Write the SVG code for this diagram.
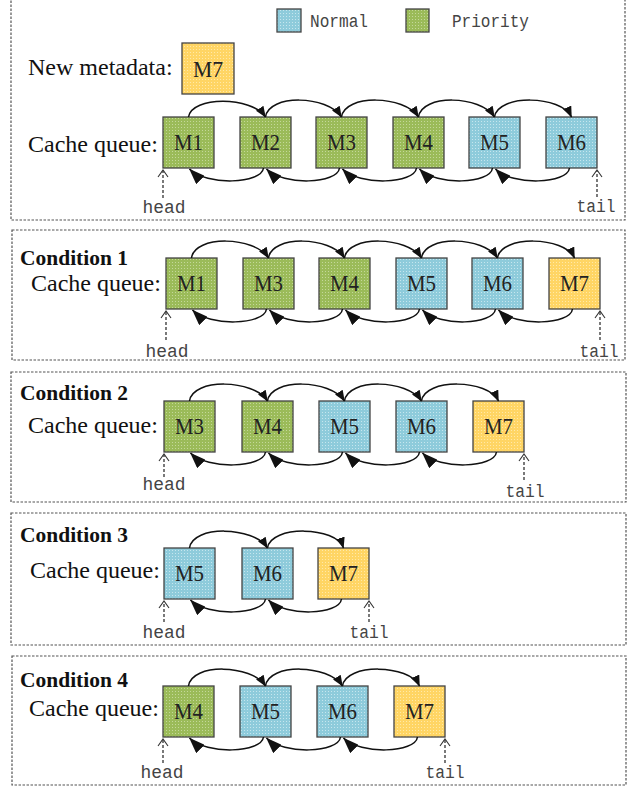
<svg xmlns="http://www.w3.org/2000/svg" width="634" height="788" viewBox="0 0 634 788">
<defs>
<pattern id="pg" width="3" height="3" patternUnits="userSpaceOnUse"><rect width="3" height="3" fill="#9bbb59"/><rect x="1" y="1" width="1" height="1" fill="#c4d89a"/></pattern>
<pattern id="pb" width="3" height="3" patternUnits="userSpaceOnUse"><rect width="3" height="3" fill="#8ecbdb"/><rect x="1" y="1" width="1" height="1" fill="#c6e6ee"/></pattern>
<pattern id="py" width="3" height="3" patternUnits="userSpaceOnUse"><rect width="3" height="3" fill="#ffd564"/><rect x="1" y="1" width="1" height="1" fill="#ffe9a8"/></pattern>
<marker id="at" viewBox="0 0 11 9" refX="10.5" refY="4.5" markerWidth="11" markerHeight="9" orient="auto" markerUnits="userSpaceOnUse"><path d="M0,0 L11,4.5 L0,9 z" fill="#111"/></marker>
<marker id="ab" viewBox="0 0 16 12" refX="15.5" refY="6" markerWidth="16" markerHeight="12" orient="auto" markerUnits="userSpaceOnUse"><path d="M0,0 L16,6 L0,12 z" fill="#111"/></marker>
<style>
.panel{fill:none;stroke:#555;stroke-width:1.2;stroke-dasharray:2.5 1.5}
.g{fill:url(#pg);stroke:#444;stroke-width:1.3}
.b{fill:url(#pb);stroke:#444;stroke-width:1.3}
.y{fill:url(#py);stroke:#444;stroke-width:1.3}
.ml{font-family:"Liberation Serif",serif;font-size:23px;fill:#222;text-anchor:middle}
.lbl{font-family:"Liberation Serif",serif;font-size:24px;fill:#111}
.cond{font-family:"Liberation Serif",serif;font-size:22px;font-weight:bold;fill:#111}
.mono{font-family:"Liberation Mono",monospace;font-size:19px;fill:#444}
.leg{font-family:"Liberation Mono",monospace;font-size:19px;fill:#444}
.top{fill:none;stroke:#111;stroke-width:1.5;marker-end:url(#at)}
.bot{fill:none;stroke:#111;stroke-width:1.5;marker-end:url(#ab)}
.dash{fill:none;stroke:#333;stroke-width:1.3;stroke-dasharray:3 2}
.chev{fill:none;stroke:#333;stroke-width:1.1}
</style>
</defs>
<rect width="634" height="788" fill="#fff"/>

<g id="panels">
<rect class="panel" x="11" y="-3" width="614" height="223"/>
<rect class="panel" x="12" y="230" width="613" height="130"/>
<rect class="panel" x="11" y="372" width="615" height="130"/>
<rect class="panel" x="11" y="513" width="615" height="132"/>
<rect class="panel" x="12" y="656" width="614" height="129"/>
</g>

<g id="legend">
<rect class="b" x="277" y="9" width="24" height="23"/>
<text class="leg" x="310" y="27" textLength="58" lengthAdjust="spacingAndGlyphs">Normal</text>
<rect class="g" x="406" y="9" width="23" height="23"/>
<text class="leg" x="452" y="27" textLength="77" lengthAdjust="spacingAndGlyphs">Priority</text>
</g>

<g id="labels">
<text class="lbl" x="28" y="75">New metadata:</text>
<text class="lbl" x="28" y="152">Cache queue:</text>
<text class="cond" x="20" y="265" textLength="108" lengthAdjust="spacingAndGlyphs">Condition 1</text>
<text class="lbl" x="31" y="291">Cache queue:</text>
<text class="cond" x="20" y="400" textLength="108" lengthAdjust="spacingAndGlyphs">Condition 2</text>
<text class="lbl" x="28" y="433">Cache queue:</text>
<text class="cond" x="20" y="542" textLength="108" lengthAdjust="spacingAndGlyphs">Condition 3</text>
<text class="lbl" x="30" y="578">Cache queue:</text>
<text class="cond" x="20" y="687" textLength="108" lengthAdjust="spacingAndGlyphs">Condition 4</text>
<text class="lbl" x="29" y="716">Cache queue:</text>
</g>

<g id="new-m7"><rect class="y" x="182" y="43" width="52" height="51"/><text class="ml" x="208" y="76.5" textLength="30" lengthAdjust="spacingAndGlyphs">M7</text></g>

<g id="p0-m1"><rect class="g" x="163" y="117" width="51" height="51"/><text class="ml" x="188.5" y="150" textLength="29" lengthAdjust="spacingAndGlyphs">M1</text></g>
<g id="p0-m2"><rect class="g" x="240" y="117" width="51" height="51"/><text class="ml" x="265.5" y="150" textLength="29" lengthAdjust="spacingAndGlyphs">M2</text></g>
<g id="p0-m3"><rect class="g" x="316" y="117" width="51" height="51"/><text class="ml" x="341.5" y="150" textLength="29" lengthAdjust="spacingAndGlyphs">M3</text></g>
<g id="p0-m4"><rect class="g" x="393" y="117" width="51" height="51"/><text class="ml" x="418.5" y="150" textLength="29" lengthAdjust="spacingAndGlyphs">M4</text></g>
<g id="p0-m5"><rect class="b" x="469" y="117" width="51" height="51"/><text class="ml" x="494.5" y="150" textLength="29" lengthAdjust="spacingAndGlyphs">M5</text></g>
<g id="p0-m6"><rect class="b" x="546" y="117" width="51" height="51"/><text class="ml" x="571.5" y="150" textLength="29" lengthAdjust="spacingAndGlyphs">M6</text></g>

<g id="p1-m1"><rect class="g" x="166" y="258" width="51" height="51"/><text class="ml" x="191.5" y="291" textLength="29" lengthAdjust="spacingAndGlyphs">M1</text></g>
<g id="p1-m3"><rect class="g" x="243" y="258" width="51" height="51"/><text class="ml" x="268.5" y="291" textLength="29" lengthAdjust="spacingAndGlyphs">M3</text></g>
<g id="p1-m4"><rect class="g" x="319" y="258" width="51" height="51"/><text class="ml" x="344.5" y="291" textLength="29" lengthAdjust="spacingAndGlyphs">M4</text></g>
<g id="p1-m5"><rect class="b" x="396" y="258" width="51" height="51"/><text class="ml" x="421.5" y="291" textLength="29" lengthAdjust="spacingAndGlyphs">M5</text></g>
<g id="p1-m6"><rect class="b" x="472" y="258" width="51" height="51"/><text class="ml" x="497.5" y="291" textLength="29" lengthAdjust="spacingAndGlyphs">M6</text></g>
<g id="p1-m7"><rect class="y" x="549" y="258" width="51" height="51"/><text class="ml" x="574.5" y="291" textLength="29" lengthAdjust="spacingAndGlyphs">M7</text></g>

<g id="p2-m3"><rect class="g" x="164" y="401" width="51" height="51"/><text class="ml" x="189.5" y="434" textLength="29" lengthAdjust="spacingAndGlyphs">M3</text></g>
<g id="p2-m4"><rect class="g" x="242" y="401" width="51" height="51"/><text class="ml" x="267.5" y="434" textLength="29" lengthAdjust="spacingAndGlyphs">M4</text></g>
<g id="p2-m5"><rect class="b" x="319" y="401" width="51" height="51"/><text class="ml" x="344.5" y="434" textLength="29" lengthAdjust="spacingAndGlyphs">M5</text></g>
<g id="p2-m6"><rect class="b" x="396" y="401" width="51" height="51"/><text class="ml" x="421.5" y="434" textLength="29" lengthAdjust="spacingAndGlyphs">M6</text></g>
<g id="p2-m7"><rect class="y" x="473" y="401" width="51" height="51"/><text class="ml" x="498.5" y="434" textLength="29" lengthAdjust="spacingAndGlyphs">M7</text></g>

<g id="p3-m5"><rect class="b" x="164" y="548" width="51" height="51"/><text class="ml" x="189.5" y="581" textLength="29" lengthAdjust="spacingAndGlyphs">M5</text></g>
<g id="p3-m6"><rect class="b" x="242" y="548" width="51" height="51"/><text class="ml" x="267.5" y="581" textLength="29" lengthAdjust="spacingAndGlyphs">M6</text></g>
<g id="p3-m7"><rect class="y" x="318" y="548" width="51" height="51"/><text class="ml" x="343.5" y="581" textLength="29" lengthAdjust="spacingAndGlyphs">M7</text></g>

<g id="p4-m4"><rect class="g" x="163" y="686" width="51" height="51"/><text class="ml" x="188.5" y="719" textLength="29" lengthAdjust="spacingAndGlyphs">M4</text></g>
<g id="p4-m5"><rect class="b" x="240" y="686" width="51" height="51"/><text class="ml" x="265.5" y="719" textLength="29" lengthAdjust="spacingAndGlyphs">M5</text></g>
<g id="p4-m6"><rect class="b" x="317" y="686" width="51" height="51"/><text class="ml" x="342.5" y="719" textLength="29" lengthAdjust="spacingAndGlyphs">M6</text></g>
<g id="p4-m7"><rect class="y" x="394" y="686" width="51" height="51"/><text class="ml" x="419.5" y="719" textLength="29" lengthAdjust="spacingAndGlyphs">M7</text></g>

<g id="connectors">
<path class="top" d="M188.5,117 C191.5,96 251.5,96 265.5,117"/>
<path class="top" d="M265.5,117 C268.5,94 327.5,95 341.5,117"/>
<path class="top" d="M341.5,117 C344.5,94 404.5,95 418.5,117"/>
<path class="top" d="M418.5,117 C421.5,94 480.5,95 494.5,117"/>
<path class="top" d="M494.5,117 C497.5,94 561.5,95 571.5,117"/>
<path class="bot" d="M263.5,168 C261.5,184 206.5,186 189.5,169"/>
<path class="bot" d="M339.5,168 C337.5,184 283.5,186 266.5,169"/>
<path class="bot" d="M416.5,168 C414.5,184 359.5,186 342.5,169"/>
<path class="bot" d="M492.5,168 C490.5,184 436.5,186 419.5,169"/>
<path class="bot" d="M569.5,168 C567.5,184 512.5,186 495.5,169"/>

<path class="top" d="M191.5,258 C194.5,235 254.5,236 268.5,258"/>
<path class="top" d="M268.5,258 C271.5,235 330.5,236 344.5,258"/>
<path class="top" d="M344.5,258 C347.5,235 407.5,236 421.5,258"/>
<path class="top" d="M421.5,258 C424.5,235 483.5,236 497.5,258"/>
<path class="top" d="M497.5,258 C500.5,235 564.5,236 574.5,258"/>
<path class="bot" d="M266.5,309 C264.5,325 209.5,327 192.5,310"/>
<path class="bot" d="M342.5,309 C340.5,325 286.5,327 269.5,310"/>
<path class="bot" d="M419.5,309 C417.5,325 362.5,327 345.5,310"/>
<path class="bot" d="M495.5,309 C493.5,325 439.5,327 422.5,310"/>
<path class="bot" d="M572.5,309 C570.5,325 515.5,327 498.5,310"/>

<path class="top" d="M189.5,401 C192.5,378 253.5,379 267.5,401"/>
<path class="top" d="M267.5,401 C270.5,378 330.5,379 344.5,401"/>
<path class="top" d="M344.5,401 C347.5,378 407.5,379 421.5,401"/>
<path class="top" d="M421.5,401 C424.5,378 488.5,379 498.5,401"/>
<path class="bot" d="M265.5,452 C263.5,468 207.5,470 190.5,453"/>
<path class="bot" d="M342.5,452 C340.5,468 285.5,470 268.5,453"/>
<path class="bot" d="M419.5,452 C417.5,468 362.5,470 345.5,453"/>
<path class="bot" d="M496.5,452 C494.5,468 439.5,470 422.5,453"/>

<path class="top" d="M189.5,548 C192.5,525 253.5,526 267.5,548"/>
<path class="top" d="M267.5,548 C270.5,525 336.5,526 343.5,548"/>
<path class="bot" d="M265.5,599 C263.5,615 207.5,617 190.5,600"/>
<path class="bot" d="M341.5,599 C339.5,615 285.5,617 268.5,600"/>

<path class="top" d="M188.5,686 C191.5,663 251.5,664 265.5,686"/>
<path class="top" d="M265.5,686 C268.5,663 328.5,664 342.5,686"/>
<path class="top" d="M342.5,686 C345.5,663 409.5,664 419.5,686"/>
<path class="bot" d="M263.5,737 C261.5,753 206.5,755 189.5,738"/>
<path class="bot" d="M340.5,737 C338.5,753 283.5,755 266.5,738"/>
<path class="bot" d="M417.5,737 C415.5,753 360.5,755 343.5,738"/>
</g>

<g id="pointers">
<path class="dash" d="M163,198 V171"/><path class="chev" d="M158,177 L163,170 L168,177"/>
<text class="mono" x="164" y="213" text-anchor="middle" textLength="43" lengthAdjust="spacingAndGlyphs">head</text>
<path class="dash" d="M597,197 V171"/><path class="chev" d="M592,177 L597,170 L602,177"/>
<text class="mono" x="596" y="212" text-anchor="middle" textLength="39" lengthAdjust="spacingAndGlyphs">tail</text>

<path class="dash" d="M166,340 V312"/><path class="chev" d="M161,318 L166,311 L171,318"/>
<text class="mono" x="167" y="357" text-anchor="middle" textLength="43" lengthAdjust="spacingAndGlyphs">head</text>
<path class="dash" d="M600,340 V312"/><path class="chev" d="M595,318 L600,311 L605,318"/>
<text class="mono" x="599" y="357" text-anchor="middle" textLength="39" lengthAdjust="spacingAndGlyphs">tail</text>

<path class="dash" d="M164,477 V455"/><path class="chev" d="M159,461 L164,454 L169,461"/>
<text class="mono" x="164" y="490" text-anchor="middle" textLength="43" lengthAdjust="spacingAndGlyphs">head</text>
<path class="dash" d="M524,480 V455"/><path class="chev" d="M519,461 L524,454 L529,461"/>
<text class="mono" x="525" y="497" text-anchor="middle" textLength="39" lengthAdjust="spacingAndGlyphs">tail</text>

<path class="dash" d="M164,622 V602"/><path class="chev" d="M159,608 L164,601 L169,608"/>
<text class="mono" x="164" y="638" text-anchor="middle" textLength="43" lengthAdjust="spacingAndGlyphs">head</text>
<path class="dash" d="M369,622 V602"/><path class="chev" d="M364,608 L369,601 L374,608"/>
<text class="mono" x="369" y="638" text-anchor="middle" textLength="39" lengthAdjust="spacingAndGlyphs">tail</text>

<path class="dash" d="M163,763 V740"/><path class="chev" d="M158,746 L163,739 L168,746"/>
<text class="mono" x="162" y="778" text-anchor="middle" textLength="43" lengthAdjust="spacingAndGlyphs">head</text>
<path class="dash" d="M445,763 V740"/><path class="chev" d="M440,746 L445,739 L450,746"/>
<text class="mono" x="445" y="778" text-anchor="middle" textLength="39" lengthAdjust="spacingAndGlyphs">tail</text>
</g>
</svg>
